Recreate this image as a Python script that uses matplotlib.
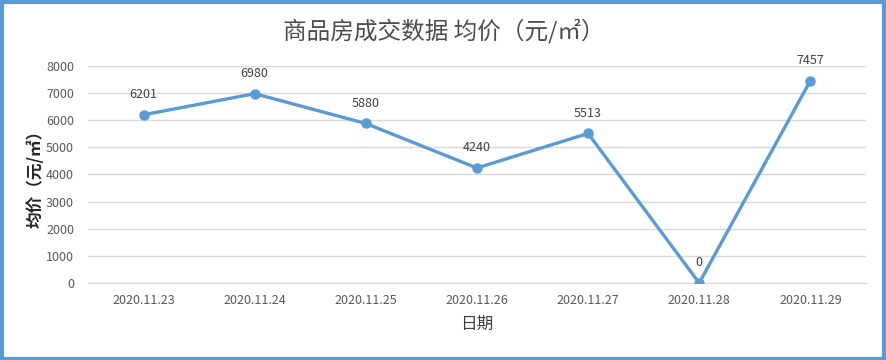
import matplotlib.pyplot as plt
from matplotlib.patches import Rectangle

plt.rcParams['font.family'] = ['Noto Sans CJK SC', 'DejaVu Sans']

dates = ['2020.11.23', '2020.11.24', '2020.11.25', '2020.11.26',
         '2020.11.27', '2020.11.28', '2020.11.29']
prices = [6201, 6980, 5880, 4240, 5513, 0, 7457]
yticks = [0, 1000, 2000, 3000, 4000, 5000, 6000, 7000, 8000]

blue = '#5B9BD5'

fig = plt.figure(figsize=(8.87, 3.6), dpi=100)
ax = fig.add_axes([0.0992, 0.2139, 0.877, 0.6028])

x = list(range(len(dates)))
ax.plot(x, prices, color=blue, linewidth=2.4, marker='o', markersize=6.5,
        solid_capstyle='round', zorder=3)
for xi, v in zip(x, prices):
    ax.annotate(str(v), (xi, v), xytext=(0, 10), textcoords='offset points',
                ha='center', va='bottom', fontsize=9, color='#404040')

ax.set_xlim(-0.5, len(dates) - 0.5)
ax.set_ylim(0, 8000)
ax.set_xticks(x)
ax.set_xticklabels(dates)
ax.set_yticks(yticks)
ax.tick_params(axis='both', length=0, colors='#595959', labelsize=9)
ax.tick_params(axis='x', pad=8)
ax.tick_params(axis='y', pad=10)
ax.grid(axis='y', color='#D9D9D9', linewidth=1)
ax.set_axisbelow(True)
for s in ['top', 'right', 'left']:
    ax.spines[s].set_visible(False)
ax.spines['bottom'].set_color('#D9D9D9')

ax.set_xlabel('日期', fontsize=12, color='#404040', labelpad=6)
ax.set_ylabel('均价（元/㎡）', fontsize=12, color='#262626', labelpad=1,
              fontweight='bold')
fig.text(0.5, 0.915, '商品房成交数据 均价（元/㎡）', ha='center', va='center',
         fontsize=17, color='#4D4D4D')

fig.patches.append(Rectangle((0.002, 0.004), 0.995, 0.99, transform=fig.transFigure,
                             fill=False, edgecolor=blue, linewidth=3))

fig.savefig('out.png', dpi=100)
